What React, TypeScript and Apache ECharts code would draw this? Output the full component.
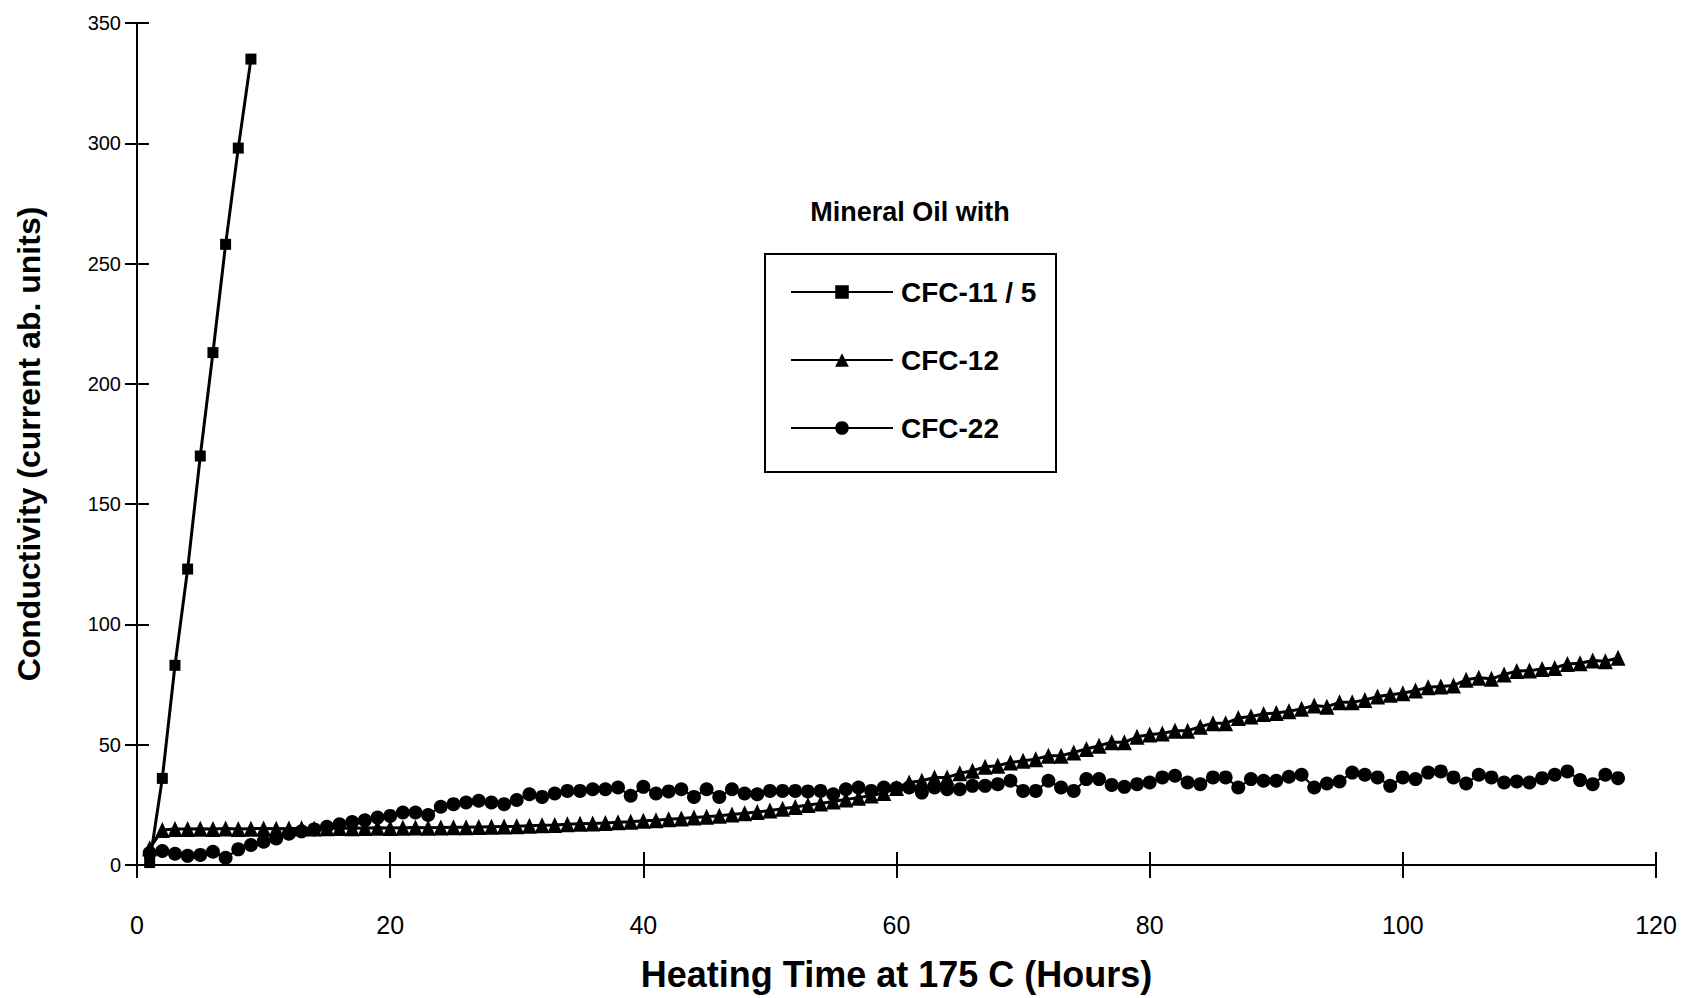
import React, { useEffect, useRef } from "react";
import * as echarts from "echarts";

// Heating time (hours) at which readings were taken
const squareHours = [1, 2, 3, 4, 5, 6, 7, 8, 9];
const hours = [
  1, 2, 3, 4, 5, 6, 7, 8, 9, 10, 11, 12, 13, 14, 15, 16, 17, 18, 19, 20,
  21, 22, 23, 24, 25, 26, 27, 28, 29, 30, 31, 32, 33, 34, 35, 36, 37, 38, 39, 40,
  41, 42, 43, 44, 45, 46, 47, 48, 49, 50, 51, 52, 53, 54, 55, 56, 57, 58, 59, 60,
  61, 62, 63, 64, 65, 66, 67, 68, 69, 70, 71, 72, 73, 74, 75, 76, 77, 78, 79, 80,
  81, 82, 83, 84, 85, 86, 87, 88, 89, 90, 91, 92, 93, 94, 95, 96, 97, 98, 99, 100,
  101, 102, 103, 104, 105, 106, 107, 108, 109, 110, 111, 112, 113, 114, 115, 116, 117,
];

// Conductivity (current ab. units)
const cfc11 = [1, 36, 83, 123, 170, 213, 258, 298, 335];
const cfc12 = [
  7,
  14.5, 15, 15, 15.1, 15, 15.2, 15, 15.1, 15.2, 15.1, 15.2, 15.3, 15.2, 15.3, 15.4, 15.3, 15.4, 15.5, 15.4, 15.5, 15.6, 15.5, 15.6, 15.7, 15.7, 15.8, 15.9, 16, 16.1,
  16.3, 16.5, 16.6, 16.9, 17.1, 17.3, 17.5, 17.8, 18, 18.4, 18.6, 19, 19.3, 19.7, 20.1, 20.5, 21, 21.5, 22, 22.7, 23.4, 24.1, 24.9, 25.6, 26.4, 27.2, 28, 28.9, 29.9,
  32, 34.3, 35, 36.4, 36.4, 38.1, 39.2, 40.8, 41.3, 42.6, 43.3, 44, 45.4, 45.4, 46.8, 48.2, 49.6, 51, 51, 53.3, 54.2, 54.7, 55.8, 55.8, 57.5, 58.9, 58.9, 61.1, 61.7, 62.8,
  63.2, 63.9, 64.9, 66.3, 65.8, 67.6, 67.6, 68.6, 70, 70.8, 71.4, 72.5, 73.9, 74.2, 74.6, 77, 77.8, 77.4, 79.2, 80.6, 80.8, 81.5, 81.9, 83.6, 83.9, 85, 84.7, 86.1,
];
const cfc22 = [
  5,
  5.8, 4.7, 3.8, 4.2, 5.5, 3, 6.5, 8.3, 9.7, 11, 13, 14, 14.8, 15.9, 16.9, 17.9, 18.6, 19.7, 20.4, 21.8, 21.8, 20.8, 24.2, 25.3, 26, 26.7, 26, 25.3, 27,
  29.4, 28.3, 29.7, 30.8, 30.8, 31.5, 31.5, 32.2, 28.8, 32.5, 29.7, 30.6, 31.5, 28.3, 31.5, 28.3, 31.5, 29.7, 29.4, 30.8, 30.8, 30.8, 30.6, 30.8, 29.4, 31.5, 32.2, 30.8, 32.2, 32,
  32.2, 30.1, 32.2, 31.5, 31.5, 32.9, 32.9, 33.6, 35, 30.8, 30.8, 35, 32.2, 30.8, 35.7, 35.7, 33.3, 32.5, 33.6, 34.3, 36.4, 37.1, 34.3, 33.6, 36.4, 36.4, 32.2, 35.7, 35, 35,
  36.7, 37.5, 32.2, 33.9, 34.7, 38.4, 37.5, 36.4, 32.9, 36.4, 35.7, 38.4, 38.9, 36.4, 33.9, 37.5, 36.4, 34.3, 34.7, 34.3, 36.1, 37.5, 38.9, 35.3, 33.6, 37.5, 36.1,
];

const seriesNames = ["CFC-11 / 5", "CFC-12", "CFC-22"];
const legendTitle = "Mineral Oil with";
const xTitle = "Heating Time at 175 C (Hours)";
const yTitle = "Conductivity (current ab. units)";

const FONT = "'Liberation Sans', Arial, sans-serif";

export default function App() {
  const ref = useRef<HTMLDivElement>(null);
  useEffect(() => {
    if (!ref.current) return;
    const chart = echarts.init(ref.current, undefined, { renderer: "svg" });
    const pair = (xs: number[], ys: number[]) => ys.map((y, i) => [xs[i], y]);
    const axisCommon = {
      type: "value" as const,
      splitLine: { show: false },
    };
    chart.setOption({
      animation: false,
      backgroundColor: "#ffffff",
      textStyle: { fontFamily: FONT, color: "#000" },
      grid: { left: 137, right: 25, top: 23, bottom: 133, containLabel: false, outerBoundsMode: "none" },
      xAxis: [
        {
          ...axisCommon,
          min: 0,
          max: 120,
          interval: 20,
          axisLine: { show: true, lineStyle: { color: "#000", width: 2 } },
          axisTick: { show: true, length: 13, lineStyle: { color: "#000", width: 2 } },
          axisLabel: { color: "#000", fontSize: 25, margin: 47, fontFamily: FONT },
          name: xTitle,
          nameLocation: "middle",
          nameGap: 91,
          nameTextStyle: { color: "#000", fontSize: 36, fontWeight: "bold", fontFamily: FONT },
        },
        {
          ...axisCommon,
          min: 0,
          max: 120,
          interval: 20,
          position: "bottom",
          axisLine: { show: false },
          axisTick: { show: true, inside: true, length: 13, lineStyle: { color: "#000", width: 2 } },
          axisLabel: { show: false },
        },
      ],
      yAxis: [
        {
          ...axisCommon,
          min: 0,
          max: 350,
          interval: 50,
          axisLine: { show: true, lineStyle: { color: "#000", width: 2 } },
          axisTick: { show: true, length: 12, lineStyle: { color: "#000", width: 2 } },
          axisLabel: { color: "#000", fontSize: 20, margin: 16, fontFamily: FONT },
          name: yTitle,
          nameLocation: "middle",
          nameGap: 92,
          nameTextStyle: { color: "#000", fontSize: 32, fontWeight: "bold", fontFamily: FONT },
        },
        {
          ...axisCommon,
          min: 0,
          max: 350,
          interval: 50,
          position: "left",
          axisLine: { show: false },
          axisTick: { show: true, inside: true, length: 12, lineStyle: { color: "#000", width: 2 } },
          axisLabel: { show: false },
        },
      ],
      legend: {
        orient: "vertical",
        left: 785,
        top: 273,
        itemWidth: 102,
        itemHeight: 17,
        itemGap: 40,
        data: seriesNames,
        textStyle: { color: "#000", fontSize: 28, fontWeight: "bold", fontFamily: FONT, padding: [0, 0, 0, 3] },
      },
      graphic: [
        {
          type: "rect",
          shape: { x: 765, y: 254, width: 291, height: 218 },
          style: { fill: "none", stroke: "#000", lineWidth: 2 },
          silent: true,
        },
        {
          type: "text",
          x: 910,
          y: 212,
          style: {
            text: legendTitle,
            fill: "#000",
            font: `bold 27px ${FONT}`,
            textAlign: "center",
            textVerticalAlign: "middle",
          },
          silent: true,
        },
      ],
      series: [
        {
          name: seriesNames[0],
          type: "line",
          data: pair(squareHours, cfc11),
          symbol: "rect",
          symbolSize: 11,
          lineStyle: { color: "#000", width: 3 },
          itemStyle: { color: "#000" },
        },
        {
          name: seriesNames[1],
          type: "line",
          data: pair(hours, cfc12),
          symbol: "triangle",
          symbolSize: [15, 16],
          lineStyle: { color: "#000", width: 3 },
          itemStyle: { color: "#000" },
        },
        {
          name: seriesNames[2],
          type: "line",
          data: pair(hours, cfc22),
          symbol: "circle",
          symbolSize: 14,
          lineStyle: { color: "#000", width: 2 },
          itemStyle: { color: "#000" },
        },
      ],
    });
    return () => chart.dispose();
  }, []);
  return (
    <div
      ref={ref}
      style={{ position: "fixed", left: 0, top: 0, width: 1681, height: 998, background: "#fff" }}
    />
  );
}
